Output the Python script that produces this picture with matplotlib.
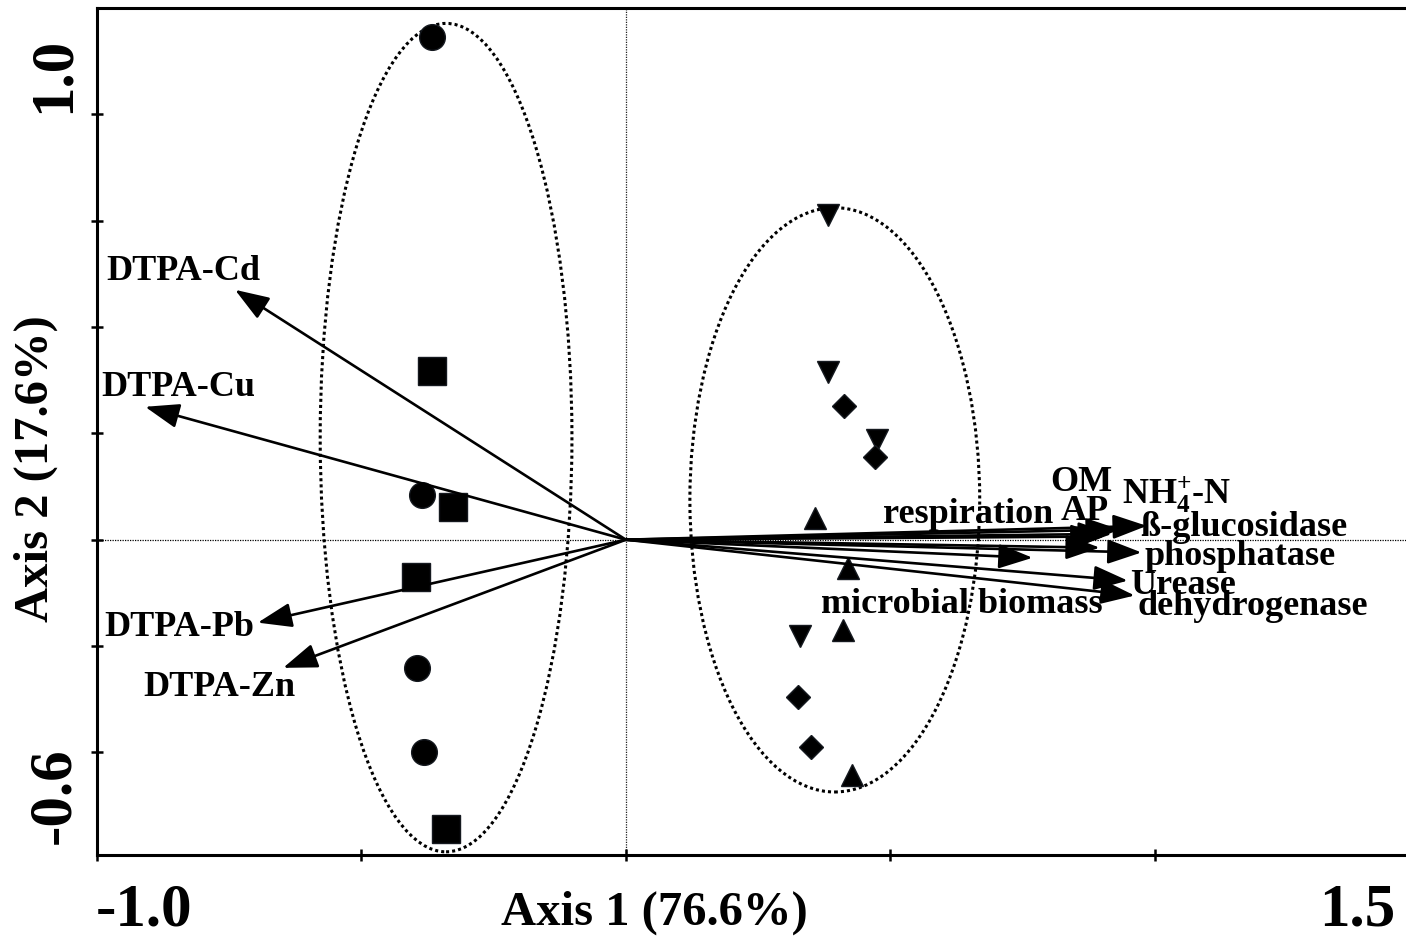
import matplotlib
matplotlib.use("Agg")
import matplotlib.pyplot as plt
from matplotlib.patches import Ellipse
import numpy as np

plt.rcParams["font.family"] = ["Liberation Serif", "DejaVu Serif"]
plt.rcParams["font.weight"] = "bold"
plt.rcParams["mathtext.fontset"] = "custom"
plt.rcParams["mathtext.rm"] = "Liberation Serif:bold"
plt.rcParams["mathtext.it"] = "Liberation Serif:bold"
plt.rcParams["mathtext.bf"] = "Liberation Serif:bold"

# sample scores (axis 1, axis 2)
circle_x = [-0.367, -0.386, -0.395, -0.382]
circle_y = [0.946, 0.085, -0.241, -0.399]
square_x = [-0.367, -0.327, -0.397, -0.340]
square_y = [0.318, 0.062, -0.070, -0.544]
tri_down_x = [0.382, 0.382, 0.474, 0.329]
tri_down_y = [0.611, 0.316, 0.188, -0.181]
diamond_x = [0.412, 0.471, 0.325, 0.350]
diamond_y = [0.252, 0.156, -0.295, -0.389]
tri_up_x = [0.357, 0.420, 0.410, 0.427]
tri_up_y = [0.041, -0.053, -0.169, -0.442]

# variable vectors
var_names = ["DTPA-Cd", "DTPA-Cu", "DTPA-Pb", "DTPA-Zn",
             "respiration", "AP", "OM", "NH$_{4}^{+}$-N", "ß-glucosidase",
             "phosphatase", "Urease", "dehydrogenase", "microbial biomass"]
var_x = [-0.739, -0.909, -0.696, -0.648,
         0.769, 0.905, 0.919, 0.934, 0.985,
         0.975, 0.949, 0.962, 0.896]
var_y = [0.470, 0.250, -0.156, -0.241,
         -0.034, 0.006, 0.011, 0.019, 0.026,
         -0.024, -0.077, -0.105, -0.015]

# label anchors (x, y, horizontal alignment)
lab_x = [-0.837, -0.847, -0.845, -0.769,
         0.648, 0.868, 0.862, 0.938, 0.972,
         0.981, 0.953, 0.968, 0.902]
lab_y = [0.504, 0.286, -0.166, -0.278,
         0.047, 0.053, 0.107, 0.085, 0.023,
         -0.032, -0.087, -0.126, -0.122]
lab_ha = ["center", "center", "center", "center",
          "center", "center", "center", "left", "left",
          "left", "left", "left", "right"]

# group ellipses: centre x, centre y, width, height
ell_cx = [-0.340, 0.395]
ell_cy = [0.192, 0.075]
ell_w = [0.476, 0.548]
ell_h = [1.558, 1.099]

W, H = 1406, 943


def px(x, y):
    return x / W, 1 - y / H


def draw_samples(ax):
    kw = dict(ls="none", color="k", mec="#15191f", mew=1.0, zorder=3)
    ax.plot(circle_x, circle_y, marker="o", ms=18.5, **kw)
    ax.plot(square_x, square_y, marker="s", ms=19.5, **kw)
    ax.plot(tri_down_x, tri_down_y, marker="v", ms=16, **kw)
    ax.plot(diamond_x, diamond_y, marker="D", ms=12, **kw)
    ax.plot(tri_up_x, tri_up_y, marker="^", ms=16, **kw)


def draw_vectors(ax):
    for name, x, y, lx, ly, ha in zip(var_names, var_x, var_y,
                                      lab_x, lab_y, lab_ha):
        ax.annotate(
            "", xy=(x, y), xytext=(0, 0),
            arrowprops=dict(
                arrowstyle="-|>,head_length=1.0,head_width=0.36",
                mutation_scale=21, lw=1.9, color="k",
                shrinkA=0, shrinkB=0),
            zorder=4)
        ax.text(lx, ly, name, ha=ha, va="center", fontsize=26,
                fontweight="bold", zorder=5)


fig = plt.figure(figsize=(W / 100, H / 100), dpi=100)
ax = fig.add_axes([97 / W, 88 / H, (W - 97) / W, 847 / H])

ax.set_xlim(-1.0, 1.475)
ax.set_ylim(-0.593, 1.0)

ax.axhline(0, color="k", lw=0.9, ls=(0, (1, 1)), zorder=1)
ax.axvline(0, color="#222222", lw=0.9, ls=(0, (1, 1)), zorder=1)

for cx, cy, w, h in zip(ell_cx, ell_cy, ell_w, ell_h):
    ax.add_patch(Ellipse((cx, cy), w, h, fill=False, ec="k",
                         lw=2.2, ls=(0, (1, 1)), zorder=2))

draw_samples(ax)
draw_vectors(ax)

ax.set_xticks([-1.0, -0.5, 0.0, 0.5, 1.0])
ax.set_yticks([-0.4, -0.2, 0.0, 0.2, 0.4, 0.6, 0.8])
ax.tick_params(direction="inout", length=9, width=1.8,
               labelbottom=False, labelleft=False)
for side in ["left", "bottom", "top"]:
    ax.spines[side].set_linewidth(2.2)
ax.spines["right"].set_visible(False)

# end labels and axis titles as placed in the original
fig.text(*px(144, 911), "-1.0", ha="center", va="center", fontsize=44)
fig.text(*px(1357, 911), "1.5", ha="center", va="center", fontsize=44)
fig.text(*px(654, 913), "Axis 1 (76.6%)", ha="center", va="center",
         fontsize=35)
fig.text(*px(54, 75), "1.0", ha="center", va="center", fontsize=44,
         rotation=90)
fig.text(*px(54, 796), "-0.6", ha="center", va="center", fontsize=44,
         rotation=90)
fig.text(*px(36, 469), "Axis 2 (17.6%)", ha="center", va="center",
         fontsize=35, rotation=90)

fig.savefig("out.png", dpi=100)
